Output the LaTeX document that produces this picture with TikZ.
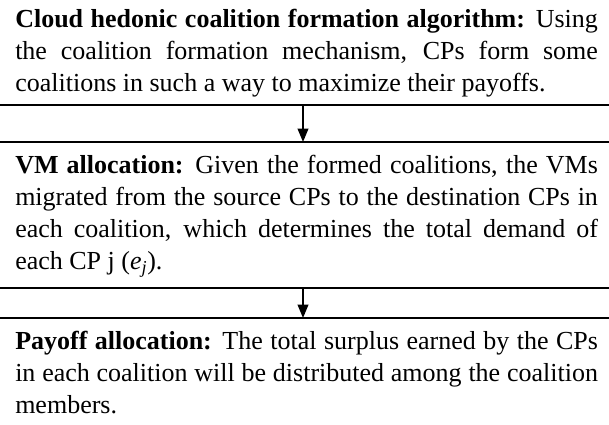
\documentclass[tikz,border=0pt]{standalone}
\usepackage{fontspec}
\setmainfont{Liberation Serif}
\usetikzlibrary{positioning}
\usetikzlibrary{arrows.meta}
\usetikzlibrary{math}

\tikzset{
  stagetext/.style={anchor=base west, inner sep=0pt, text width=437pt,
    align=justify, font=\fontsize{19.5}{24}\selectfont},
  sepline/.style={line width=1.5pt},
  flowarrow/.style={line width=1.2pt, -{Triangle[width=8pt,length=10pt]}},
}

\begin{document}
\begin{tikzpicture}

  \tikzmath{
    \W  = 456.75; % picture width (pt)
    \H  = 318;    % picture height (pt)
    \xa = 227.25; % column of the arrows
    \la = 78.75;  % separator below first stage
    \lb = 106.5;  % separator above second stage
    \lc = 216;    % separator below second stage
    \ld = 238.5;  % separator above third stage
  }

  \useasboundingbox (0,0) rectangle (\W pt,-\H pt);

  % Stages (placed at the baseline of their first line)
  \node[stagetext] (hedonic) at (11.25pt,-21pt)
    {\textbf{Cloud hedonic coalition formation algorithm:} Using\linebreak
     the coalition formation mechanism, CPs form some\linebreak
     coalitions in such a way to maximize their payoffs.};

  \node[stagetext] (vmalloc) at (11.25pt,-129.75pt)
    {\textbf{VM allocation:} Given the formed coalitions, the VMs\linebreak
     migrated from the source CPs to the destination CPs in\linebreak
     each coalition, which determines the total demand of\linebreak
     each CP j (\textit{e}\textsubscript{\textit{j}}).};

  \node[stagetext] (payoff) at (11.25pt,-261.75pt)
    {\textbf{Payoff allocation:} The total surplus earned by the CPs\linebreak
     in each coalition will be distributed among the coalition\linebreak
     members.};

  % Separators
  \foreach \y in {\la,\lb,\lc,\ld}
    \draw[sepline] (0,-\y pt) -- (\W pt,-\y pt);

  % Arrows between stages
  \coordinate (hedonic out) at (\xa pt,-\la pt);
  \coordinate (vmalloc in)  at (\xa pt,-\lb pt);
  \coordinate (vmalloc out) at (\xa pt,-\lc pt);
  \coordinate (payoff in)   at (\xa pt,-\ld pt);
  \draw[flowarrow] (hedonic out) -- (vmalloc in);
  \draw[flowarrow] (vmalloc out) -- (payoff in);

\end{tikzpicture}
\end{document}
